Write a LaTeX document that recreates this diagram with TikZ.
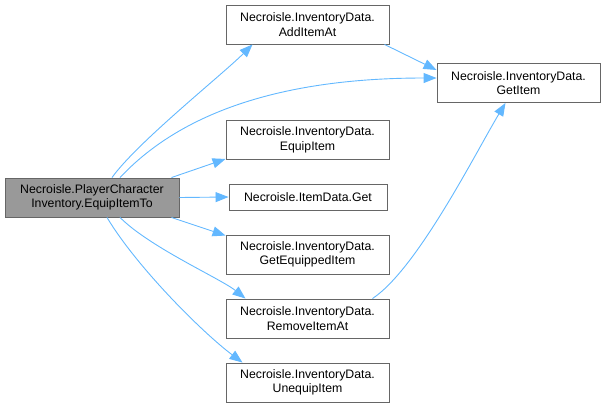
\documentclass[tikz,border=0pt]{standalone}
\usepackage{fontspec}
\setmainfont{Liberation Sans}
\usetikzlibrary{arrows.meta}
\definecolor{edgeblue}{HTML}{63B8FF}
\definecolor{boxborder}{HTML}{666666}
\definecolor{mainfill}{HTML}{999999}
\tikzset{
  fn/.style={draw=boxborder, line width=0.9pt, fill=white, minimum width=163pt, minimum height=39pt, inner sep=0pt, align=center, font=\fontsize{12.3}{14.5}\selectfont},
  fnone/.style={fn, minimum width=158pt, minimum height=26pt},
  mainbox/.style={fn, fill=mainfill, minimum width=174pt},
  call/.style={draw=edgeblue, line width=0.9pt, -{Triangle[length=13pt,width=10pt]}}
}
\begin{document}
\begin{tikzpicture}[x=1pt,y=-1pt]
\useasboundingbox (0,0) rectangle (605,408);
\node[mainbox] (main) at (92,197.5) {Necroisle.PlayerCharacter\\Inventory.EquipItemTo};
\node[fn] (add) at (307.5,24.5) {Necroisle.InventoryData.\\AddItemAt};
\node[fn] (get) at (518.5,83) {Necroisle.InventoryData.\\GetItem};
\node[fn] (equip) at (307.5,140) {Necroisle.InventoryData.\\EquipItem};
\node[fnone] (idget) at (308,197) {Necroisle.ItemData.Get};
\node[fn] (geteq) at (307.5,254.5) {Necroisle.InventoryData.\\GetEquippedItem};
\node[fn] (rem) at (307.5,318.5) {Necroisle.InventoryData.\\RemoveItemAt};
\node[fn] (uneq) at (307.5,382.5) {Necroisle.InventoryData.\\UnequipItem};

\draw[call] ([xshift=20pt]main.north) .. controls +(25,-35) and +(-30,30) .. ([xshift=-55pt]add.south);
\draw[call] ([xshift=28pt]main.north) .. controls +(75,-80) and +(-120,0) .. ([yshift=5pt]get.west);
\draw[call] ([xshift=77pt]add.south) -- ([yshift=13pt]get.west);
\draw[call] ([xshift=-8pt]main.north east) -- ([yshift=1pt]equip.south west);
\draw[call] (main.east) -- (idget.west);
\draw[call] ([xshift=-8pt]main.south east) -- ([yshift=-1pt]geteq.north west);
\draw[call] ([xshift=28pt]main.south) .. controls +(30,30) and +(-25,-20) .. ([xshift=-62pt]rem.north);
\draw[call] ([xshift=15pt]main.south) .. controls +(30,50) and +(-40,-30) .. ([xshift=-65pt]uneq.north);
\draw[call] ([xshift=65pt]rem.north) .. controls +(45,-30) and +(-30,50) .. ([xshift=-13pt]get.south);
\end{tikzpicture}
\end{document}
